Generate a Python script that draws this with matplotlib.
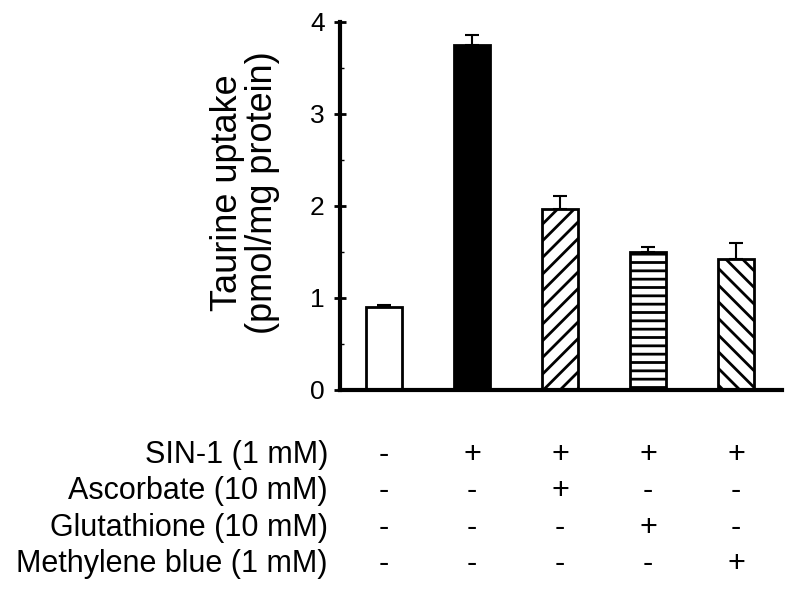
import matplotlib.pyplot as plt
from matplotlib.ticker import MultipleLocator

plt.rcParams['font.family'] = ['Liberation Sans', 'DejaVu Sans']
plt.rcParams['hatch.linewidth'] = 2.0

# values
groups = [0, 1, 2, 3, 4]
uptake = [0.90, 3.75, 1.97, 1.50, 1.42]
errors = [0.02, 0.11, 0.14, 0.05, 0.18]
fills = ['white', 'black', 'white', 'white', 'white']
hatches = [None, None, '//', '--', '\\\\']

row_labels = ['SIN-1 (1 mM)', 'Ascorbate (10 mM)',
              'Glutathione (10 mM)', 'Methylene blue (1 mM)']
sin1 = ['-', '+', '+', '+', '+']
ascorbate = ['-', '-', '+', '-', '-']
glutathione = ['-', '-', '-', '+', '-']
methylene = ['-', '-', '-', '-', '+']
rows = [sin1, ascorbate, glutathione, methylene]

fig = plt.figure(figsize=(8, 5.9), dpi=100)
ax = fig.add_axes([0.425, 0.339, 0.5525, 0.624])

bars = ax.bar(groups, uptake, width=0.41, color=fills, edgecolor='black',
              linewidth=2, zorder=2)
for b, h in zip(bars, hatches):
    if h:
        b.set_hatch(h)
ax.errorbar(groups, uptake, yerr=[[0] * 5, errors], fmt='none',
            ecolor='black', elinewidth=1.5, capsize=5, capthick=1.5, zorder=3)

ax.set_xlim(-0.5, 4.52)
ax.set_ylim(0, 4)
ax.set_yticks([0, 1, 2, 3, 4])
ax.yaxis.set_minor_locator(MultipleLocator(0.5))
ax.set_xticks([])
ax.spines['top'].set_visible(False)
ax.spines['right'].set_visible(False)
ax.spines['left'].set_linewidth(3)
ax.spines['bottom'].set_linewidth(3)
ax.tick_params(axis='y', direction='inout', length=8, width=2,
               labelsize=19, pad=7)
ax.tick_params(axis='y', which='minor', direction='in', length=3, width=1)

# y label, two centred lines
fig.text(245 / 800, 1 - 193 / 590, 'Taurine uptake\n(pmol/mg protein)',
         rotation=90, ha='center', va='center', multialignment='center',
         fontsize=26, linespacing=1.0)

# treatment table under the bars
row_y = [463, 499, 536, 572]
for label, signs, yp in zip(row_labels, rows, row_y):
    yf = 1 - yp / 590
    fig.text(328 / 800, yf, label, ha='right', va='baseline', fontsize=22)
    for g, s in zip(groups, signs):
        xd = ax.transData.transform((g, 0))[0]
        fig.text(xd / 800, yf, s, ha='center', va='baseline', fontsize=22)

fig.savefig('out.png', dpi=100)
